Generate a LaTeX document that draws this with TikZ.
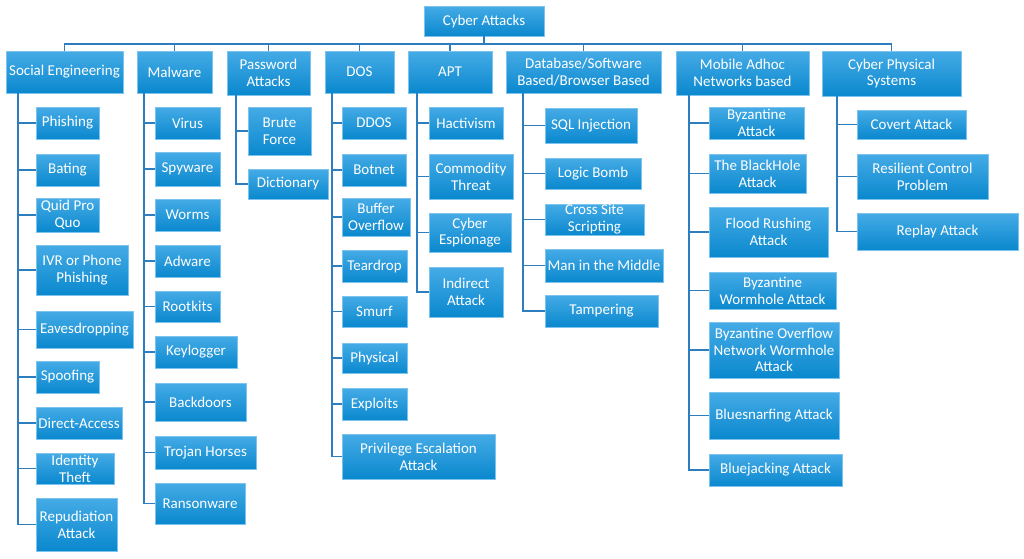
\documentclass[tikz,border=0pt]{standalone}
\usepackage{fontspec}
\setmainfont{Carlito}
\definecolor{boxtop}{HTML}{45ABE6}
\definecolor{boxbot}{HTML}{0A88CE}
\definecolor{boxedge}{HTML}{7CC4EE}
\definecolor{linec}{HTML}{2E7DBF}
\newcommand{\bx}[6]{\node[box,minimum width={#4-#2},minimum height={#5-#3}] (#1) at ({(#2+#4)/2},{(#3+#5)/2}) {#6};}
\begin{document}
\begin{tikzpicture}[x=1pt,y=-1pt,
  box/.style={rectangle,inner sep=0pt,align=center,text=white,
    top color=boxtop,bottom color=boxbot,draw=boxedge,line width=0.6pt,
    font=\fontsize{15}{16.8}\selectfont},
  conn/.style={draw=linec,line width=1.6pt}]
\useasboundingbox[fill=white] (0,0) rectangle (1024,558);
% root
\bx{root}{424}{6}{544}{36}{Cyber Attacks}
% categories
\bx{se}{6}{51}{123}{93}{Social Engineering}
\bx{mw}{137}{51}{212}{93}{Malware}
\bx{pw}{227}{51}{310}{95}{Password\\Attacks}
\bx{dos}{325}{51}{394}{93}{DOS}
\bx{apt}{408}{51}{492}{93}{APT}
\bx{db}{506}{51}{661}{93}{Database/Software\\Based/Browser Based}
\bx{man}{676}{51}{809}{95}{Mobile Adhoc\\Networks based}
\bx{cps}{822}{51}{961}{96}{Cyber Physical\\Systems}
% Social Engineering
\bx{se1}{36}{107}{99}{139}{Phishing}
\bx{se2}{36}{154}{99}{186}{Bating}
\bx{se3}{36}{198}{99}{232}{Quid Pro\\Quo}
\bx{se4}{36}{245}{128}{295}{IVR or Phone\\Phishing}
\bx{se5}{36}{311}{133}{348}{Eavesdropping}
\bx{se6}{36}{361}{99}{393}{Spoofing}
\bx{se7}{36}{407}{122}{439}{Direct-Access}
\bx{se8}{36}{453}{114}{484}{Identity\\Theft}
\bx{se9}{36}{498}{117}{551}{Repudiation\\Attack}
% Malware
\bx{mw1}{155}{107}{220}{139}{Virus}
\bx{mw2}{155}{152}{220}{186}{Spyware}
\bx{mw3}{155}{199}{220}{231}{Worms}
\bx{mw4}{155}{245}{220}{277}{Adware}
\bx{mw5}{155}{291}{220}{322}{Rootkits}
\bx{mw6}{155}{336}{237}{368}{Keylogger}
\bx{mw7}{155}{383}{246}{421}{Backdoors}
\bx{mw8}{155}{436}{256}{469}{Trojan Horses}
\bx{mw9}{155}{483}{245}{524}{Ransonware}
% Password
\bx{pw1}{248}{107}{311}{155}{Brute\\Force}
\bx{pw2}{248}{169}{328}{199}{Dictionary}
% DOS
\bx{dos1}{342}{107}{406}{139}{DDOS}
\bx{dos2}{342}{154}{406}{186}{Botnet}
\bx{dos3}{342}{198}{410}{236}{Buffer\\Overflow}
\bx{dos4}{342}{250}{407}{282}{Teardrop}
\bx{dos5}{342}{296}{407}{327}{Smurf}
\bx{dos6}{342}{343}{407}{373}{Physical}
\bx{dos7}{342}{388}{407}{420}{Exploits}
\bx{dos8}{342}{434}{495}{479}{Privilege Escalation\\Attack}
% APT
\bx{apt1}{429}{107}{503}{139}{Hactivism}
\bx{apt2}{429}{154}{513}{199}{Commodity\\Threat}
\bx{apt3}{429}{213}{511}{252}{Cyber\\Espionage}
\bx{apt4}{429}{267}{503}{317}{Indirect\\Attack}
% Database
\bx{db1}{545}{108}{637}{143}{SQL Injection}
\bx{db2}{545}{158}{641}{189}{Logic Bomb}
\bx{db3}{545}{204}{644}{235}{Cross Site\\Scripting}
\bx{db4}{545}{249}{663}{282}{Man in the Middle}
\bx{db5}{545}{295}{658}{327}{Tampering}
% MANET
\bx{man1}{709}{107}{804}{139}{Byzantine\\Attack}
\bx{man2}{709}{154}{806}{193}{The BlackHole\\Attack}
\bx{man3}{709}{207}{828}{257}{Flood Rushing\\Attack}
\bx{man4}{709}{272}{836}{309}{Byzantine\\Wormhole Attack}
\bx{man5}{709}{322}{839}{378}{Byzantine Overflow\\Network Wormhole\\Attack}
\bx{man6}{709}{392}{839}{439}{Bluesnarfing Attack}
\bx{man7}{709}{454}{842}{486}{Bluejacking Attack}
% CPS
\bx{cps1}{857}{110}{966}{139}{Covert Attack}
\bx{cps2}{857}{154}{988}{199}{Resilient Control\\Problem}
\bx{cps3}{857}{213}{1018}{250}{Replay Attack}
% top bus
\coordinate (bus) at (484,44);
\draw[conn] (root.south) -- (bus);
\foreach \c in {se,mw,pw,dos,apt,db,man,cps} {\draw[conn] (\c.north) |- (bus);}
% vertical spines
\coordinate (sev) at (18,93);
\coordinate (mwv) at (144,93);
\coordinate (pwv) at (236,95);
\coordinate (dosv) at (332,93);
\coordinate (aptv) at (417,93);
\coordinate (dbv) at (523,93);
\coordinate (manv) at (689,95);
\coordinate (cpsv) at (837,96);
\foreach \i in {1,...,9} {\draw[conn] (sev) |- (se\i.west);}
\foreach \i in {1,...,9} {\draw[conn] (mwv) |- (mw\i.west);}
\foreach \i in {1,2} {\draw[conn] (pwv) |- (pw\i.west);}
\foreach \i in {1,...,8} {\draw[conn] (dosv) |- (dos\i.west);}
\foreach \i in {1,...,4} {\draw[conn] (aptv) |- (apt\i.west);}
\foreach \i in {1,...,5} {\draw[conn] (dbv) |- (db\i.west);}
\foreach \i in {1,...,7} {\draw[conn] (manv) |- (man\i.west);}
\foreach \i in {1,2,3} {\draw[conn] (cpsv) |- (cps\i.west);}
\end{tikzpicture}
\end{document}
